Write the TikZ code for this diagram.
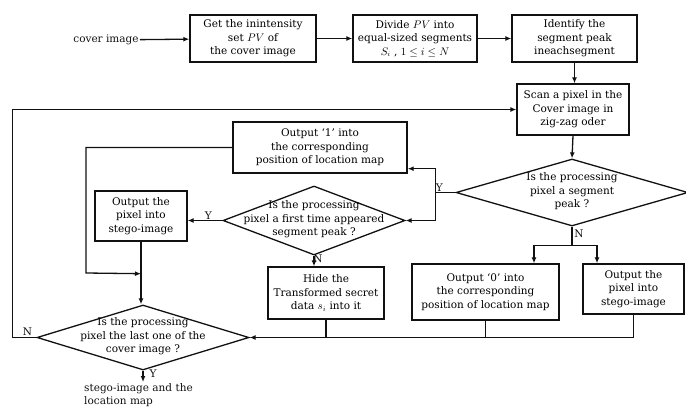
\documentclass[tikz,border=0pt]{standalone}
\usepackage{fontspec}
\setmainfont{DejaVu Serif}
\usepackage{amsmath,amssymb}
\usepackage{xcolor}
\usetikzlibrary{arrows.meta,positioning,calc,shapes.geometric}
\definecolor{Ink}{HTML}{111111}
\newcommand{\dtext}[1]{\makebox[0pt]{\smash{\raisebox{-2pt}{\begin{tabular}{@{}c@{}}#1\end{tabular}}}}}
\tikzset{
  flow/.style={
    draw=Ink, line width=1.4pt, align=center, inner sep=1pt,
    font=\fontsize{10.5pt}{13.5pt}\selectfont
  },
  decide/.style={
    draw=Ink, line width=1.3pt, shape=diamond, inner sep=0pt,
    font=\fontsize{10.5pt}{13.5pt}\selectfont
  },
  arr/.style={-{Latex[length=6pt,width=5pt]},line width=1.3pt,draw=Ink},
  wire/.style={line width=1.3pt,draw=Ink},
  note/.style={font=\fontsize{10.5pt}{13.5pt}\selectfont,color=Ink,inner sep=1pt}
}

\begin{document}
\begin{tikzpicture}[x=1pt,y=-1pt]
  \useasboundingbox (0,0) rectangle (686,407);
  % top row
  \node[note] (cov) at (106,40) {cover image};
  \node[flow,minimum width=126pt,minimum height=47pt] (get) at (253,38.5) {Get the inintensity\\set $PV$ of\\the cover image};
  \node[flow,minimum width=124pt,minimum height=47pt] (div) at (415,38.5) {Divide $PV$ into\\equal-sized segments\\$S_i$ , $1\le i\le N$};
  \node[flow,minimum width=125pt,minimum height=47pt] (peak) at (574.5,38.5) {Identify the\\segment peak\\ineachsegment};
  \node[flow,minimum width=112pt,minimum height=51pt] (scan) at (573,109.5) {Scan a pixel in the\\Cover image in\\zig-zag oder};
  % decisions
  \node[decide,minimum width=232pt,minimum height=67pt] (dia1) at (572,192.5) {\dtext{Is the processing\\pixel a segment\\peak ?}};
  \node[flow,minimum width=174pt,minimum height=51pt] (out5) at (320,147.5) {Output `1' into\\the corresponding\\position of location map};
  \node[decide,minimum width=182pt,minimum height=69pt] (dia2) at (314,220.5) {\dtext{Is the processing\\pixel a first time appeared\\segment peak ?}};
  \node[flow,minimum width=92pt,minimum height=50pt] (out6) at (141,216) {Output the\\pixel into\\stego-image};
  \node[flow,minimum width=116pt,minimum height=52pt] (hide) at (326,293) {Hide the\\Transformed secret\\data $s_i$ into it};
  \node[flow,minimum width=147pt,minimum height=56pt] (out8) at (485.5,292) {Output `0' into\\the corresponding\\position of location map};
  \node[flow,minimum width=101pt,minimum height=50pt] (out9) at (633.5,289) {Output the\\pixel into\\stego-image};
  \node[decide,minimum width=212pt,minimum height=65pt] (dia3) at (143,337.5) {\dtext{Is the processing\\pixel the last one of the\\cover image ?}};
  \node[note,align=left,anchor=north west] (res) at (83,382) {stego-image and the\\location map};
  % top row arrows
  \draw[arr] (cov) -- (get);
  \draw[arr] (get) -- (div);
  \draw[arr] (div) -- (peak);
  \draw[arr] (peak.south) -- (peak.south |- scan.north);
  \draw[arr] (scan.south) -- (dia1.north);
  % yes branch of the segment peak test
  \coordinate (yb) at ($(dia1.west)+(-20,0)$);
  \draw[wire] (dia1.west) -- (yb);
  \draw[arr] (yb) |- ($(out5.south east)+(0,-5)$);
  \draw[arr] (yb) |- (dia2.east);
  \node[note] (y1) at ($(yb)+(4,-5)$) {Y};
  % first time appeared test
  \draw[arr] (dia2.west) -- (dia2.west -| out6.east);
  \node[note] (y2) at ($(dia2.west)+(-14,-5)$) {Y};
  \draw[arr] (dia2.south) -- (dia2.south |- hide.north);
  \node[note] (n2) at ($(dia2.south)+(4,3)$) {N};
  \coordinate (join) at ($(out6.south)+(0,32)$);
  \coordinate (bend) at (86,273);
  \draw[arr] (out5.west) -| (bend) -- (join);
  \draw[arr] (out6.south) -- (out6.south |- dia3.north);
  % no branch of the segment peak test
  \coordinate (split) at ($(dia1.south)+(0,19)$);
  \draw[wire] (dia1.south) -- (split);
  \draw[arr] (split) -| ($(out8.north)+(48.5,0)$);
  \draw[arr] (split) -| ($(out9.north)+(-36.5,0)$);
  \node[note] (n1) at ($(dia1.south)+(7,7)$) {N};
  % merge into the last pixel test
  \draw[arr] (out9.south) |- (dia3.east);
  \draw[wire] (out8.south) -- (out8.south |- dia3.east);
  \draw[wire] (hide.south) -- (hide.south |- dia3.east);
  % loop back and finish
  \draw[arr] (dia3.west) -- ($(dia3.west)+(-24,0)$) |- (scan.west);
  \node[note] (n3) at ($(dia3.west)+(-9,-6)$) {N};
  \draw[arr] (dia3.south) -- (dia3.south |- res.north);
  \node[note] (y3) at ($(dia3.south)+(10,3)$) {Y};
\end{tikzpicture}
\end{document}
